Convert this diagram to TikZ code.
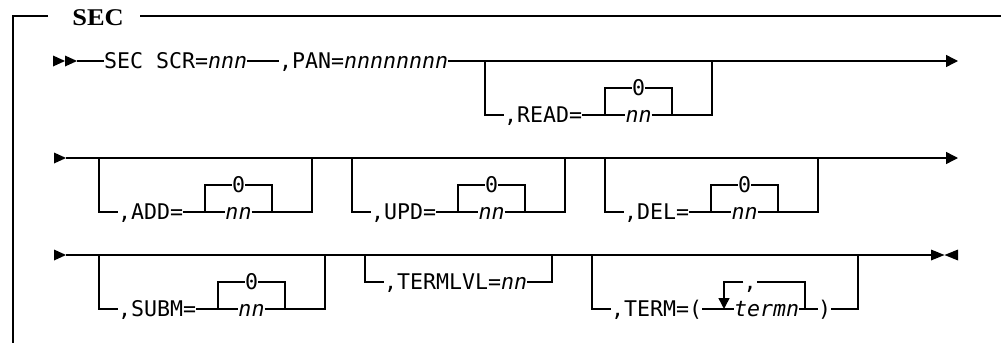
\documentclass[tikz,border=0pt]{standalone}
\usepackage{fontspec}
\newfontfamily\dmono{DejaVu Sans Mono}
\newfontfamily\tserif{Liberation Serif}
\usetikzlibrary{arrows.meta}
\tikzset{
  rr/.style={line width=1.4pt},
  frm/.style={line width=1.2pt},
  txt/.style={font=\dmono\fontsize{21.6}{24}\selectfont, inner sep=0pt, text height=15.7pt, text depth=0pt, anchor=west},
  ctxt/.style={txt, anchor=center},
  endarrow/.style={-{Triangle[length=12pt,width=12pt]}},
}
\newcommand\rrOpt[7]{% name, main y, L, label, inner L, inner R, R
  \pgfmathsetmacro\rrA{#2+27}\pgfmathsetmacro\rrB{#2+54}%
  \pgfmathsetmacro\rrC{(#5+#6)/2}\pgfmathsetmacro\rrT{#3+19}%
  \coordinate (#1-L) at (#3,#2); \coordinate (#1-R) at (#7,#2);
  \coordinate (#1-iL) at (#5,\rrB); \coordinate (#1-iR) at (#6,\rrB);
  \node[txt] (#1-t) at (\rrT,\rrB) {#4};
  \node[ctxt] (#1-0) at (\rrC,\rrA) {0};
  \node[ctxt] (#1-n) at (\rrC,\rrB) {\textit{nn}};
  \draw[rr] (#1-L) |- (#1-t.west);
  \draw[rr] (#1-t.east) -- (#1-iL) -- (#1-n.west);
  \draw[rr] (#1-n.east) -- (#1-iR) -| (#1-R);
  \draw[rr] (#1-iL) |- (#1-0.west);
  \draw[rr] (#1-0.east) -| (#1-iR);
}
\begin{document}
\begin{tikzpicture}[x=1pt,y=-1pt]
\useasboundingbox (0,0) rectangle (1001,343);
% frame
\draw[frm] (48,16) -- (13,16) -- (13,343);
\draw[frm] (140,16) -- (1001,16);
\node[font=\tserif\bfseries\fontsize{24}{26}\selectfont, inner sep=0pt] (title) at (98,18) {\scalebox{1.1}[1]{SEC}};
% row 1
\fill (53,55.5) -- (65,61) -- (53,66.5) -- cycle;
\fill (65,55.5) -- (77,61) -- (65,66.5) -- cycle;
\coordinate (m1) at (77,61);
\node[txt] (sec) at (104,61) {SEC SCR=\textit{nnn}};
\node[txt] (pan) at (279,61) {,PAN=\textit{nnnnnnnn}};
\coordinate (e1) at (958,61);
\draw[rr] (m1) -- (sec.west);
\draw[rr] (sec.east) -- (pan.west);
\draw[rr,endarrow] (pan.east) -- (e1);
\rrOpt{read}{61}{485}{,READ=}{605}{672}{712}
% row 2
\fill (54,152.5) -- (66,158) -- (54,163.5) -- cycle;
\coordinate (m2) at (66,158); \coordinate (e2) at (958,158);
\draw[rr,endarrow] (m2) -- (e2);
\rrOpt{add}{158}{99}{,ADD=}{205}{272}{312}
\rrOpt{upd}{158}{352}{,UPD=}{458}{525}{565}
\rrOpt{del}{158}{605}{,DEL=}{711}{778}{818}
% row 3
\fill (54,249.5) -- (66,255) -- (54,260.5) -- cycle;
\coordinate (m3) at (66,255); \coordinate (e3) at (931,255);
\draw[rr] (m3) -- (e3);
\fill (931,249.5) -- (944.5,255) -- (931,260.5) -- cycle;
\fill (958,249.5) -- (944.5,255) -- (958,260.5) -- cycle;
\rrOpt{subm}{255}{99}{,SUBM=}{218}{285}{325}
% TERMLVL
\coordinate (tlL) at (365,255); \coordinate (tlR) at (552,255);
\node[txt] (tl) at (384,282) {,TERMLVL=\textit{nn}};
\draw[rr] (tlL) |- (tl.west);
\draw[rr] (tl.east) -| (tlR);
% TERM
\coordinate (tmL) at (592,255); \coordinate (tmR) at (858,255);
\node[txt] (tm) at (611,309) {,TERM=(};
\coordinate (lpL) at (724,309); \coordinate (lpR) at (805,309);
\node[txt] (tmn) at (734,309) {\textit{termn}};
\node[txt] (par) at (818,309) {)};
\node[ctxt] (com) at (750,282) {,};
\draw[rr] (tmL) |- (tm.west);
\draw[rr] (tm.east) -- (tmn.west);
\draw[rr] (tmn.east) -- (par.west);
\draw[rr] (par.east) -| (tmR);
\draw[rr] (lpR) |- (com.east);
\draw[rr,-{Triangle[length=11pt,width=11pt]}] (com.west) -| (lpL);
\end{tikzpicture}
\end{document}
